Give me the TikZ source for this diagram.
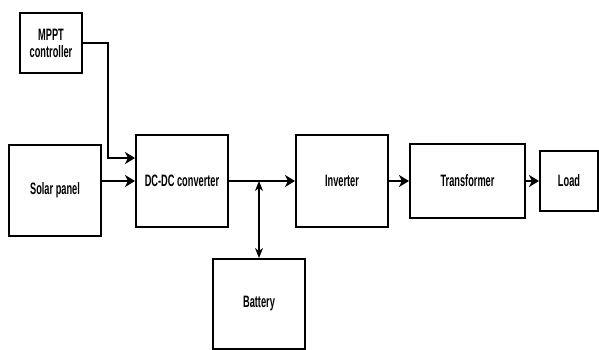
\documentclass[tikz,border=0pt]{standalone}
\usepackage{fontspec}
\setmainfont[FakeStretch=0.56]{Liberation Sans}
\usetikzlibrary{arrows.meta}

\tikzset{
  block/.style={draw, line width=2pt, inner sep=0pt, align=center,
    font=\fontsize{16.5}{17}\selectfont\bfseries},
  flow/.style={line width=2pt, -{Stealth[length=10pt,width=12pt,inset=3pt]}},
}

\begin{document}
\begin{tikzpicture}[x=1pt,y=-1pt]
        \useasboundingbox (0,0) rectangle (599,350);
        \node[block, minimum width=62pt, minimum height=60pt] (mppt) at (51,43) {MPPT\\controller};
        \node[block, minimum width=92pt, minimum height=91pt] (solar) at (55,190.5) {Solar panel};
        \node[block, minimum width=92pt, minimum height=92pt] (dcdc) at (182,181) {DC-DC converter};
        \node[block, minimum width=92pt, minimum height=92pt] (inv) at (342,181) {Inverter};
        \node[block, minimum width=115pt, minimum height=74pt] (trafo) at (467.5,181) {Transformer};
        \node[block, minimum width=58pt, minimum height=60pt] (load) at (569,181) {Load};
        \node[block, minimum width=92pt, minimum height=90pt] (bat) at (259,304) {Battery};
        \coordinate (tap) at (bat.north |- dcdc.east);

        \draw[flow, line width=2.8pt] (mppt.east) -| ([xshift=-27pt,yshift=23pt]dcdc.west) -- ([yshift=23pt]dcdc.west);
        \draw[flow] (solar.east |- dcdc.west) -- (dcdc.west);
        \draw[flow] (dcdc.east) -- (inv.west);
        \draw[flow] (inv.east) -- (trafo.west);
        \draw[flow] (trafo.east) -- (load.west);
        % battery charges and discharges
        \draw[line width=1.5pt, {Stealth[length=10pt,width=8pt,inset=3pt]}-{Stealth[length=10pt,width=8pt,inset=3pt]}] (tap) -- (bat.north);
\end{tikzpicture}
\end{document}
